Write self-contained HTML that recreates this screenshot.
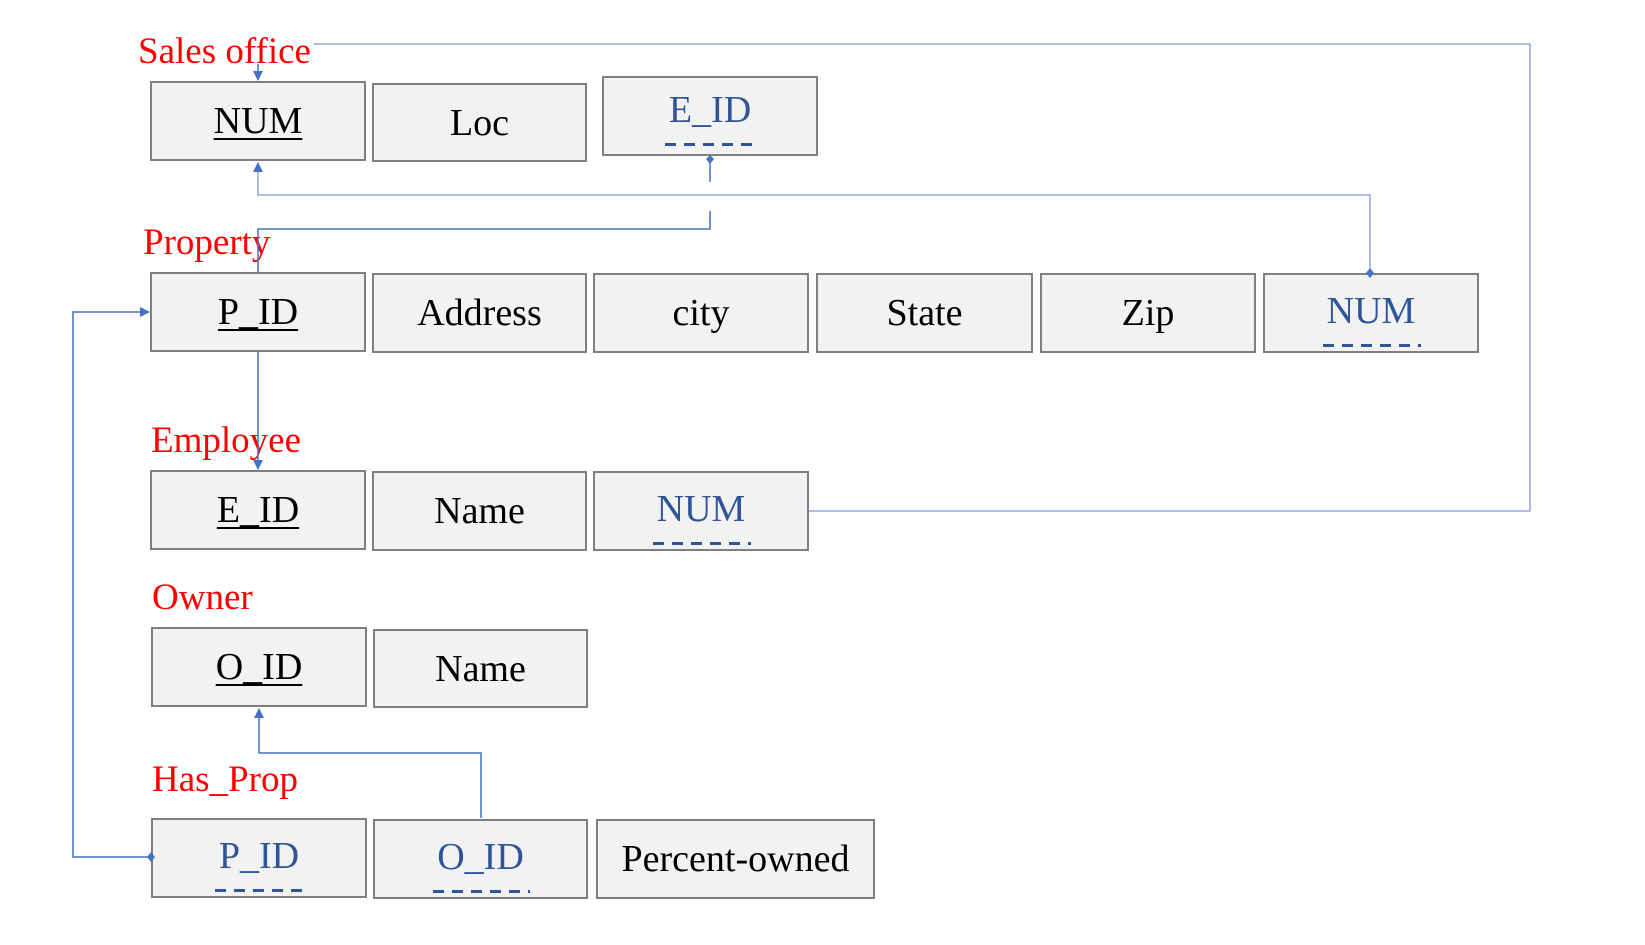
<!DOCTYPE html>
<html><head><meta charset="utf-8"><style>
body{margin:0;width:1645px;height:945px;background:#fff;position:relative;overflow:hidden;font-family:"Liberation Serif",serif}
.b{position:absolute;box-sizing:border-box;border:2px solid #7f7f7f;background:#f2f2f2;display:flex;align-items:center;justify-content:center;font-size:38px;color:#000}
.k{text-decoration:underline;text-decoration-thickness:2px;text-underline-offset:5px}
.f{color:#2f5597;position:relative}
.f::after{content:"";position:absolute;left:-4px;right:-6px;bottom:-14px;height:3.5px;background:repeating-linear-gradient(90deg,#2f5597 0 11px,transparent 11px 19px)}
.l{position:absolute;color:#f00;font-size:37px;line-height:1}
svg{position:absolute;left:0;top:0}
</style></head><body>
<div class="l" style="left:138px;top:33px">Sales office</div>
<div class="l" style="left:143px;top:224px">Property</div>
<div class="l" style="left:151px;top:422px">Employee</div>
<div class="l" style="left:152px;top:579px">Owner</div>
<div class="l" style="left:152px;top:761px">Has_Prop</div>

<div class="b" style="left:150px;top:81px;width:216px;height:80px"><span class="k">NUM</span></div>
<div class="b" style="left:372px;top:83px;width:215px;height:79px">Loc</div>
<div class="b" style="left:602px;top:76px;width:216px;height:80px"><span class="f" style="top:-6px">E_ID</span></div>

<div class="b" style="left:150px;top:272px;width:216px;height:80px"><span class="k">P_ID</span></div>
<div class="b" style="left:372px;top:273px;width:215px;height:80px">Address</div>
<div class="b" style="left:593px;top:273px;width:216px;height:80px">city</div>
<div class="b" style="left:816px;top:273px;width:217px;height:80px">State</div>
<div class="b" style="left:1040px;top:273px;width:216px;height:80px">Zip</div>
<div class="b" style="left:1263px;top:273px;width:216px;height:80px"><span class="f" style="top:-2px">NUM</span></div>

<div class="b" style="left:150px;top:470px;width:216px;height:80px"><span class="k">E_ID</span></div>
<div class="b" style="left:372px;top:471px;width:215px;height:80px">Name</div>
<div class="b" style="left:593px;top:471px;width:216px;height:80px"><span class="f" style="top:-2px">NUM</span></div>

<div class="b" style="left:151px;top:627px;width:216px;height:80px"><span class="k">O_ID</span></div>
<div class="b" style="left:373px;top:629px;width:215px;height:79px">Name</div>

<div class="b" style="left:151px;top:818px;width:216px;height:80px"><span class="f" style="top:-2px">P_ID</span></div>
<div class="b" style="left:373px;top:819px;width:215px;height:80px"><span class="f" style="top:-2px">O_ID</span></div>
<div class="b" style="left:596px;top:819px;width:279px;height:80px">Percent-owned</div>

<svg width="1645" height="945" fill="none" stroke-width="1.5">
<defs><marker id="a" markerWidth="10" markerHeight="10" refX="9" refY="5" orient="auto" markerUnits="userSpaceOnUse"><path d="M0,0L10,5L0,10z" fill="#4472c4" stroke="none"/></marker></defs>
<g stroke="#8faadc">
<polyline points="314,44 1530,44 1530,511 809,511"/>
<polyline points="1370,272 1370,195 258,195 258,163" marker-end="url(#a)"/>
</g>
<g stroke="#4472c4">
<line x1="258" y1="64" x2="258" y2="80" marker-end="url(#a)"/>
<line x1="710" y1="157" x2="710" y2="182"/>
<polyline points="710,211 710,229 258,229 258,272"/>
<line x1="258" y1="352" x2="258" y2="469" marker-end="url(#a)"/>
<polyline points="151,857 73,857 73,312 149,312" marker-end="url(#a)"/>
<polyline points="481,818 481,753 259,753 259,709" marker-end="url(#a)"/>
</g>
<g fill="#4472c4">
<path d="M1370,268l4,5l-4,5l-4,-5z"/>
<path d="M151,852l4,5l-4,5l-4,-5z"/>
<path d="M710,155l4,4l-4,5l-4,-5z"/>
</g>
</svg>
</body></html>
